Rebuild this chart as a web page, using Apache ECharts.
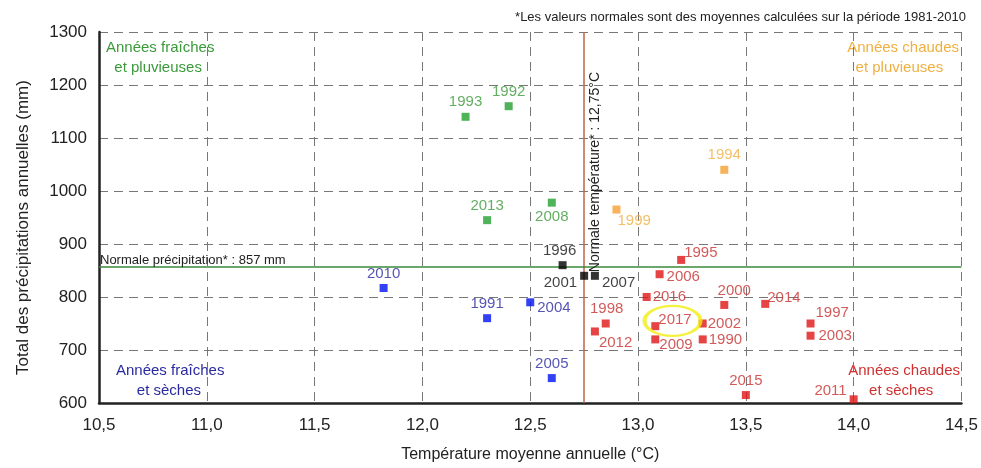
<!DOCTYPE html>
<html><head><meta charset="utf-8">
<script src="https://cdn.jsdelivr.net/npm/echarts@6/dist/echarts.min.js"></script>
<style>html,body{margin:0;padding:0;background:#fff}#c{width:981px;height:468px}</style>
</head><body><div id="c"></div>
<script>
// ---- data ----
const xTicks = ['10,5','11,0','11,5','12,0','12,5','13,0','13,5','14,0','14,5'];
const yTicks = [600,700,800,900,1000,1100,1200,1300];

const coolWetYears  = ['1993','1992','2013','2008'];
const coolWetTemp   = [12.2, 12.4, 12.3, 12.6];
const coolWetPrecip = [1140, 1160, 945, 978];

const warmWetYears  = ['1994','1999'];
const warmWetTemp   = [13.4, 12.9];
const warmWetPrecip = [1040, 965];

const coolDryYears  = ['2010','1991','2004','2005'];
const coolDryTemp   = [11.82, 12.3, 12.5, 12.6];
const coolDryPrecip = [817, 760, 790, 647];

const normalYears  = ['1996','2001','2007'];
const normalTemp   = [12.65, 12.75, 12.8];
const normalPrecip = [860, 840, 840];

const warmDryYears  = ['1995','2006','2016','2000','2014','1998','2012','2017','2009','2002','1990','1997','2003','2015','2011'];
const warmDryTemp   = [13.2, 13.1, 13.04, 13.4, 13.59, 12.85, 12.8, 13.08, 13.08, 13.3, 13.3, 13.8, 13.8, 13.5, 14.0];
const warmDryPrecip = [870, 843, 800, 785, 787, 750, 735, 745, 720, 750, 720, 750, 727, 615, 607];

const normalTemperature = 12.75;
const normalPrecipitation = 857;
const highlightYear = '2017';

// ---- label placement (style) ----
const labelPlace = {
  '1993':['top',0,0], '1992':['top',0,0], '2013':['top',0,0], '2008':['bottom',0,0],
  '1994':['top',0,0], '1999':['right',-6,11],
  '2010':['top',0,0], '1991':['top',0,0], '2004':['right',0,6], '2005':['top',0,0],
  '1996':['top',-3,0], '2001':['left',0,7], '2007':['right',0,7],
  '1995':['right',-4,-7], '2006':['right',0,3], '2016':['right',-1,0], '2000':['top',10,0],
  '2014':['right',-5,-6], '1998':['top',1,0], '2012':['right',-3,11], '2017':['right',-4,-6],
  '2009':['right',-3,5], '2002':['right',-2,0], '1990':['right',-1,0], '1997':['right',-2,-11],
  '2003':['right',1,0], '2015':['top',0,0], '2011':['left',0,-8]
};

const FONT = 'Liberation Sans, Arial, sans-serif';

function pts(years, temps, precs) {
  return years.map((y, i) => {
    const p = labelPlace[y] || ['top',0,0];
    return { name: y, value: [temps[i], precs[i]],
      label: { position: p[0], offset: [p[1], p[2]] } };
  });
}

function grp(years, temps, precs, markColor, textColor, size) {
  return {
    type: 'scatter', symbol: 'rect', symbolSize: size || 8,
    itemStyle: { color: markColor },
    label: { show: true, formatter: '{b}', color: textColor, fontSize: 15, fontFamily: FONT, distance: 3 },
    data: pts(years, temps, precs), z: 5
  };
}

const hlIdx = warmDryYears.indexOf(highlightYear);

const chart = echarts.init(document.getElementById('c'), null, { renderer: 'canvas' });
chart.setOption({
  animation: false,
  backgroundColor: '#fff',
  grid: { left: 99, right: 15, top: 32, bottom: 65, containLabel: false },
  xAxis: {
    type: 'value', min: 10.5, max: 14.5, interval: 0.5,
    name: 'Température moyenne annuelle (°C)', nameLocation: 'middle', nameGap: 44,
    nameTextStyle: { fontSize: 16, color: '#222', fontFamily: FONT },
    axisLine: { show: true, onZero: false, lineStyle: { color: '#222', width: 2.5 } },
    axisTick: { show: false },
    axisLabel: { fontSize: 17, color: '#222', fontFamily: FONT, margin: 14,
      formatter: v => xTicks[Math.round((v - 10.5) / 0.5)] },
    splitLine: { show: true, lineStyle: { color: '#777', type: [9, 6], width: 1 } }
  },
  yAxis: {
    type: 'value', min: 600, max: 1300, interval: 100,
    name: 'Total des précipitations annuelles (mm)', nameLocation: 'middle', nameGap: 67,
    nameTextStyle: { fontSize: 17, color: '#222', fontFamily: FONT, padding: [0, 20, 0, 0] },
    axisLine: { show: true, onZero: false, lineStyle: { color: '#222', width: 2.5 } },
    axisTick: { show: false },
    axisLabel: { fontSize: 17, color: '#222', fontFamily: FONT, margin: 12,
      formatter: v => String(yTicks[Math.round((v - 600) / 100)]) },
    splitLine: { show: true, lineStyle: { color: '#777', type: [9, 6], width: 1 } }
  },
  graphic: [
    { type: 'text', right: 15, top: 11, style: { text: '*Les valeurs normales sont des moyennes calculées sur la période 1981-2010', font: '13px ' + FONT, fill: '#222' } },
    { type: 'text', left: 106, top: 38, style: { text: 'Années fraîches\n  et pluvieuses', font: '15px ' + FONT, fill: '#3a9a3a', lineHeight: 20, align: 'left' } },
    { type: 'text', right: 22, top: 38, style: { text: 'Années chaudes\n  et pluvieuses', font: '15px ' + FONT, fill: '#f0b040', lineHeight: 20, align: 'left' } },
    { type: 'text', left: 116, top: 361, style: { text: 'Années fraîches\n     et sèches', font: '15px ' + FONT, fill: '#2a2aa0', lineHeight: 20, align: 'left' } },
    { type: 'text', right: 21, top: 361, style: { text: 'Années chaudes\n     et sèches', font: '15px ' + FONT, fill: '#d03030', lineHeight: 20, align: 'left' } }
  ],
  series: [
    {
      type: 'scatter', data: [], silent: true,
      markLine: {
        symbol: 'none', silent: true, animation: false,
        data: [
          { xAxis: normalTemperature, lineStyle: { color: '#c0604a', width: 1.5, type: 'solid' },
            label: { show: true, formatter: 'Normale température* : 12,75°C', position: 'insideEndBottom',
              distance: [40, 4], color: '#222', fontSize: 14, fontFamily: FONT } },
          { yAxis: normalPrecipitation, lineStyle: { color: '#3a8a3a', width: 1.5, type: 'solid' },
            label: { show: true, formatter: 'Normale précipitation* : 857 mm', position: 'insideStartTop',
              distance: [1, 0], color: '#222', fontSize: 13, fontFamily: FONT } }
        ]
      }, z: 3
    },
    grp(coolWetYears, coolWetTemp, coolWetPrecip, '#22a030', '#3a9a3a'),
    grp(warmWetYears, warmWetTemp, warmWetPrecip, '#f5a030', '#f0b040'),
    grp(coolDryYears, coolDryTemp, coolDryPrecip, '#0010f0', '#2a2aa0'),
    grp(normalYears, normalTemp, normalPrecip, '#000000', '#111111'),
    grp(warmDryYears, warmDryTemp, warmDryPrecip, '#e01515', '#c83030'),
    {
      type: 'scatter', symbol: 'circle', symbolSize: [56, 30], silent: true,
      itemStyle: { color: 'rgba(0,0,0,0)', borderColor: '#f2ee10', borderWidth: 3 },
      data: [[warmDryTemp[hlIdx] + 0.08, warmDryPrecip[hlIdx] + 10]], z: 6
    }
  ]
});
</script></body></html>
